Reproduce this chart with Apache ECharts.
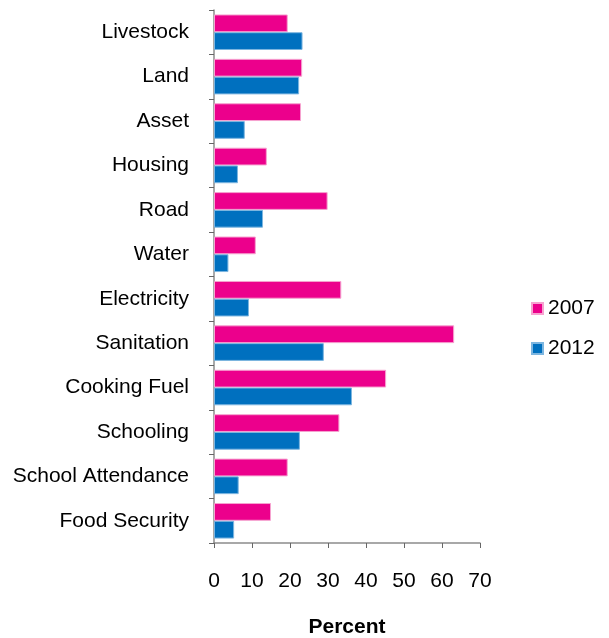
<!DOCTYPE html>
<html><head><meta charset="utf-8">
<script src="https://cdn.jsdelivr.net/npm/echarts@6/dist/echarts.min.js"></script>
<style>html,body{margin:0;padding:0;background:#fff}#c{width:609px;height:638px}</style>
</head><body><div id="c"></div>
<script>
var categories = ["Livestock","Land","Asset","Housing","Road","Water","Electricity","Sanitation","Cooking Fuel","Schooling","School Attendance","Food Security"];
var values2007 = [19.4, 23.2, 22.9, 13.9, 29.9, 11.0, 33.5, 63.2, 45.3, 33.0, 19.4, 15.0];
var values2012 = [23.3, 22.4, 8.1, 6.3, 12.9, 3.8, 9.2, 28.9, 36.3, 22.6, 6.5, 5.3];
var xTicks = [0, 10, 20, 30, 40, 50, 60, 70];
var seriesNames = ["2007", "2012"];

var chart = echarts.init(document.getElementById('c'), null, {renderer: 'canvas'});
var font = "'Liberation Sans', Arial, sans-serif";
chart.setOption({
  animation: false,
  textStyle: {fontFamily: font},
  grid: {left: 214, right: 129, top: 10, bottom: 95, containLabel: false, outerBoundsMode: 'none'},
  legend: {
    orient: 'vertical', left: 526, top: 293, itemWidth: 11, itemHeight: 11, itemGap: 19,
    icon: 'rect', data: seriesNames,
    textStyle: {fontFamily: font, fontSize: 21, color: '#000', padding: [0,0,0,0]}
  },
  xAxis: {
    type: 'value', min: xTicks[0], max: xTicks[xTicks.length-1], interval: 10,
    name: 'Percent', nameLocation: 'middle', nameGap: 74,
    nameTextStyle: {fontFamily: font, fontSize: 21, fontWeight: 'bold', color: '#000'},
    axisLine: {show: true, lineStyle: {color: '#8c8c8c', width: 1.5}},
    axisTick: {show: true, length: 5, lineStyle: {color: '#666'}},
    axisLabel: {fontFamily: font, fontSize: 21, color: '#000', margin: 28},
    splitLine: {show: false}
  },
  yAxis: {
    type: 'category', data: categories, inverse: true,
    axisLine: {show: true, lineStyle: {color: '#8c8c8c', width: 1.5}},
    axisTick: {show: true, length: 5, lineStyle: {color: '#666'}},
    axisLabel: {fontFamily: font, fontSize: 21, color: '#000', margin: 25, padding: [3,0,0,0]}
  },
  series: [
    {name: seriesNames[0], type: 'bar', data: values2007, barGap: '0%', barCategoryGap: '20%',
     itemStyle: {color: '#EC008C', borderColor: '#F6A3D0', borderWidth: 1}},
    {name: seriesNames[1], type: 'bar', data: values2012, barGap: '0%', barCategoryGap: '20%',
     itemStyle: {color: '#0070BF', borderColor: '#7DB6E0', borderWidth: 1}}
  ]
});
</script>
</body></html>
